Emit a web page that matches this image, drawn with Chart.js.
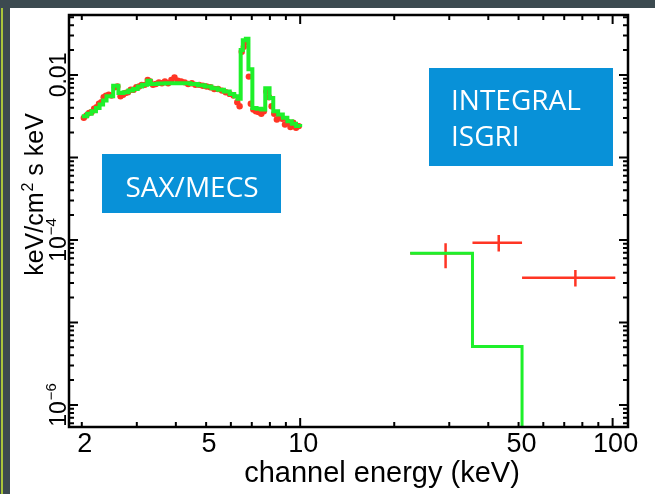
<!DOCTYPE html>
<html>
<head>
<meta charset="utf-8">
<title>SAX/MECS and INTEGRAL ISGRI spectrum</title>
<script src="https://cdn.jsdelivr.net/npm/chart.js@4.4.1/dist/chart.umd.min.js"></script>
<style>
  html, body { margin: 0; padding: 0; }
  body { width: 655px; height: 494px; background: #3c4a50; position: relative; overflow: hidden; }
  .edge { position: absolute; left: 1px; top: 8px; width: 2px; height: 486px; background: #a9c53b; }
  .sheet { position: absolute; left: 10px; top: 8px; width: 645px; height: 486px; background: #fff; }
  canvas { display: block; }
</style>
</head>
<body>
<div class="edge"></div>
<div class="sheet"><canvas id="spectrum" width="645" height="486"></canvas></div>
<script>
// SAX/MECS unfolded data points (channel energy keV, keV/cm2 s keV)
const mecsEnergy = [2.03, 2.07, 2.11, 2.15, 2.19, 2.23, 2.27, 2.31, 2.35, 2.39, 2.44, 2.49,
  2.55, 2.60, 2.66, 2.71, 2.76, 2.81, 2.87, 2.93, 2.99, 3.05, 3.11, 3.18, 3.25, 3.31, 3.38,
  3.45, 3.53, 3.61, 3.69, 3.78, 3.87, 3.96, 4.06, 4.16, 4.27, 4.38, 4.50, 4.62, 4.75, 4.88,
  5.02, 5.16, 5.31, 5.46, 5.62, 5.78, 5.95, 6.12, 6.29, 6.40, 6.50, 6.60, 6.72, 6.85, 6.95,
  7.08, 7.22, 7.36, 7.51, 7.65, 7.80, 7.95, 8.10, 8.26, 8.42, 8.59, 8.76, 8.94, 9.12, 9.31,
  9.50, 9.70, 9.90];
const mecsFlux = [0.00302, 0.00324, 0.00347, 0.00355, 0.00389, 0.00407, 0.00447, 0.00468,
  0.00537, 0.00562, 0.00575, 0.00562, 0.00708, 0.00724, 0.00550, 0.00575, 0.00603, 0.00617,
  0.00661, 0.00661, 0.00708, 0.00724, 0.00759, 0.00759, 0.00871, 0.00832, 0.00759, 0.00776,
  0.00813, 0.00794, 0.00832, 0.00794, 0.00871, 0.00933, 0.00851, 0.00832, 0.00813, 0.00776,
  0.00794, 0.00759, 0.00759, 0.00741, 0.00724, 0.00708, 0.00676, 0.00676, 0.00646, 0.00617,
  0.00589, 0.00562, 0.00468, 0.00417, 0.0191, 0.0219, 0.0251, 0.00955, 0.00447, 0.00380,
  0.00363, 0.00355, 0.00339, 0.00363, 0.00631, 0.00537, 0.00417, 0.00339, 0.00288, 0.00316,
  0.00295, 0.00251, 0.00269, 0.00234, 0.00263, 0.00229, 0.00240];

// SAX/MECS model, one value per bin starting at each energy
const mecsModelEnergy = [2.00, 2.08, 2.15, 2.22, 2.28, 2.34, 2.40, 2.52, 2.62, 2.72, 2.82,
  2.92, 3.02, 3.12, 3.24, 3.32, 3.50, 3.70, 3.95, 4.20, 4.45, 4.70, 4.95, 5.20, 5.45, 5.70,
  5.95, 6.15, 6.30, 6.45, 6.55, 6.70, 6.83, 7.03, 7.25, 7.50, 7.73, 7.98, 8.20, 8.50, 8.80,
  9.10, 9.40, 9.70, 10.0];
const mecsModelFlux = [0.00316, 0.00339, 0.00363, 0.00398, 0.00437, 0.00490, 0.00550,
  0.00741, 0.00603, 0.00617, 0.00646, 0.00676, 0.00724, 0.00759, 0.00851, 0.00776, 0.00785,
  0.00794, 0.00794, 0.00794, 0.00776, 0.00750, 0.00724, 0.00692, 0.00661, 0.00631, 0.00589,
  0.00550, 0.00513, 0.0200, 0.0263, 0.0275, 0.0117, 0.00398, 0.00389, 0.00380, 0.00692,
  0.00525, 0.00363, 0.00331, 0.00302, 0.00275, 0.00257, 0.00240, 0.00234];

// INTEGRAL ISGRI points with error bars
const isgriEnergy = [29.2, 43.2, 76.0];
const isgriEnergyLo = [22.5, 35.6, 51.3];
const isgriEnergyHi = [35.6, 51.3, 102.0];
const isgriFlux = [6.90e-5, 9.27e-5, 3.49e-5];
const isgriFluxLo = [4.54e-5, 7.24e-5, 2.72e-5];
const isgriFluxHi = [9.12e-5, 1.148e-4, 4.33e-5];

// INTEGRAL ISGRI model steps (last bin is below the plot)
const isgriModelEnergy = [22.5, 35.6, 51.3, 112];
const isgriModelFlux = [6.90e-5, 5.09e-6, 1e-8, 1e-8];

const xTickLabels = [2, 5, 10, 50, 100];
const yTickLabels = [1e-2, 1e-4, 1e-6];

const RED = '#ff3524';
const GREEN = '#1ef02a';
const BOX_BLUE = '#0891d8';
const AXIS_FONT = '"Liberation Sans", Arial, sans-serif';

function toPoints(xs, ys) {
  return xs.map(function (x, i) { return { x: x, y: ys[i] }; });
}

// every 1..9 x 10^n value inside [min, max]
function logTickValues(min, max) {
  const out = [];
  for (let e = Math.floor(Math.log10(min)); e <= Math.ceil(Math.log10(max)); e++) {
    for (let m = 1; m <= 9; m++) {
      const v = m * Math.pow(10, e);
      if (v >= min && v <= max) out.push({ value: v, major: m === 1 });
    }
  }
  return out;
}

// "10" with a raised exponent, centred on 0 along the current x direction
function drawPower(ctx, exp, size) {
  const small = Math.round(size * 0.65);
  ctx.font = size + 'px ' + AXIS_FONT;
  const w1 = ctx.measureText('10').width;
  ctx.font = small + 'px ' + AXIS_FONT;
  const w2 = ctx.measureText('\u2212' + exp).width;
  const start = -(w1 + w2 + 1) / 2;
  ctx.textAlign = 'left';
  ctx.font = size + 'px ' + AXIS_FONT;
  ctx.fillText('10', start, 0);
  ctx.font = small + 'px ' + AXIS_FONT;
  ctx.fillText('\u2212' + exp, start + w1 + 1, -size * 0.45);
}

function yLabelText(v) {
  if (v === 1e-2) return '0.01';
  return null;
}

// ISGRI error crosses, under the model line
const errorBars = {
  id: 'errorBars',
  beforeDatasetsDraw(chart) {
    const ctx = chart.ctx;
    const x = chart.scales.x;
    const y = chart.scales.y;
    ctx.save();
    ctx.strokeStyle = RED;
    ctx.lineWidth = 2.5;
    ctx.beginPath();
    isgriEnergy.forEach(function (e, i) {
      const py = y.getPixelForValue(isgriFlux[i]);
      const px = x.getPixelForValue(e);
      ctx.moveTo(x.getPixelForValue(isgriEnergyLo[i]), py);
      ctx.lineTo(x.getPixelForValue(isgriEnergyHi[i]), py);
      ctx.moveTo(px, y.getPixelForValue(isgriFluxLo[i]));
      ctx.lineTo(px, y.getPixelForValue(isgriFluxHi[i]));
    });
    ctx.stroke();
    ctx.restore();
  }
};

// box frame, inward ticks on all four sides, tick labels and titles
const frameAndLabels = {
  id: 'frameAndLabels',
  afterDraw(chart) {
    const ctx = chart.ctx;
    const a = chart.chartArea;
    const x = chart.scales.x;
    const y = chart.scales.y;

    ctx.save();
    ctx.strokeStyle = '#000';
    ctx.lineWidth = 2;
    ctx.beginPath();
    logTickValues(x.min, x.max).forEach(function (t) {
      const px = x.getPixelForValue(t.value);
      const len = t.major ? 9 : 5;
      ctx.moveTo(px, a.bottom); ctx.lineTo(px, a.bottom - len);
      ctx.moveTo(px, a.top); ctx.lineTo(px, a.top + len);
    });
    logTickValues(y.min, y.max).forEach(function (t) {
      const py = y.getPixelForValue(t.value);
      const len = t.major ? 9 : 5;
      ctx.moveTo(a.left, py); ctx.lineTo(a.left + len, py);
      ctx.moveTo(a.right, py); ctx.lineTo(a.right - len, py);
    });
    ctx.stroke();
    ctx.lineWidth = 2.5;
    ctx.strokeRect(a.left, a.top, a.right - a.left, a.bottom - a.top);

    // x tick labels
    ctx.fillStyle = '#000';
    ctx.font = '27px ' + AXIS_FONT;
    ctx.textAlign = 'center';
    ctx.textBaseline = 'alphabetic';
    xTickLabels.forEach(function (v) {
      ctx.fillText(String(v), x.getPixelForValue(v) + 3, a.bottom + 25);
    });

    // x title
    ctx.font = '29px ' + AXIS_FONT;
    ctx.fillText('channel energy (keV)', 372, 474);

    // y tick labels, vertical
    yTickLabels.forEach(function (v) {
      const py = y.getPixelForValue(v);
      ctx.save();
      ctx.translate(a.left - 3, py);
      ctx.rotate(-Math.PI / 2);
      const txt = yLabelText(v);
      if (txt) {
        ctx.font = '23px ' + AXIS_FONT;
        ctx.textAlign = 'center';
        ctx.fillText(txt, 0, 0);
      } else {
        drawPower(ctx, Math.round(-Math.log10(v)), 23);
      }
      ctx.restore();
    });

    // y title with cm^2
    ctx.save();
    ctx.translate(33, 187);
    ctx.rotate(-Math.PI / 2);
    ctx.textAlign = 'left';
    ctx.font = '25px ' + AXIS_FONT;
    const partA = 'keV/cm';
    const partB = ' s keV';
    const wA = ctx.measureText(partA).width;
    const wB = ctx.measureText(partB).width;
    ctx.font = '16px ' + AXIS_FONT;
    const wS = ctx.measureText('2').width;
    const start = -(wA + wS + wB) / 2;
    ctx.font = '25px ' + AXIS_FONT;
    ctx.fillText(partA, start, 0);
    ctx.font = '16px ' + AXIS_FONT;
    ctx.fillText('2', start + wA + 1, -10);
    ctx.font = '25px ' + AXIS_FONT;
    ctx.fillText(partB, start + wA + wS + 1, 0);
    ctx.restore();

    // instrument boxes
    ctx.fillStyle = BOX_BLUE;
    ctx.fillRect(92, 146, 179, 59);
    ctx.fillRect(419, 60, 184, 98);
    ctx.fillStyle = '#fff';
    ctx.font = '28px "Open Sans", sans-serif';
    ctx.textAlign = 'center';
    ctx.fillText('SAX/MECS', 182, 189);
    ctx.textAlign = 'left';
    ctx.fillText('INTEGRAL', 441, 102);
    ctx.fillText('ISGRI', 441, 138);
    ctx.restore();
  }
};

function buildChart() {
  const canvas = document.getElementById('spectrum');
  return new Chart(canvas.getContext('2d'), {
    type: 'scatter',
    data: {
      datasets: [
        {
          label: 'MECS model',
          data: toPoints(mecsModelEnergy, mecsModelFlux),
          showLine: true,
          stepped: 'before',
          borderColor: GREEN,
          borderWidth: 4,
          pointRadius: 0,
          fill: false
        },
        {
          label: 'ISGRI model',
          data: toPoints(isgriModelEnergy, isgriModelFlux),
          showLine: true,
          stepped: 'before',
          borderColor: GREEN,
          borderWidth: 3,
          pointRadius: 0,
          fill: false
        },
        {
          label: 'MECS data',
          data: toPoints(mecsEnergy, mecsFlux),
          pointRadius: 3.2,
          pointBackgroundColor: RED,
          pointBorderWidth: 0
        }
      ]
    },
    options: {
      responsive: false,
      animation: false,
      devicePixelRatio: 1,
      layout: { padding: { left: 0, top: 7, right: 27, bottom: 0 } },
      plugins: { legend: { display: false }, tooltip: { enabled: false } },
      scales: {
        x: {
          type: 'logarithmic',
          min: 1.82,
          max: 112,
          grid: { display: false },
          border: { display: false },
          ticks: { display: false },
          afterFit: function (s) { s.height = 67; }
        },
        y: {
          type: 'logarithmic',
          min: 5.4e-7,
          max: 0.0533,
          grid: { display: false },
          border: { display: false },
          ticks: { display: false },
          afterFit: function (s) { s.width = 59; }
        }
      }
    },
    plugins: [errorBars, frameAndLabels]
  });
}

buildChart();
</script>
</body>
</html>
